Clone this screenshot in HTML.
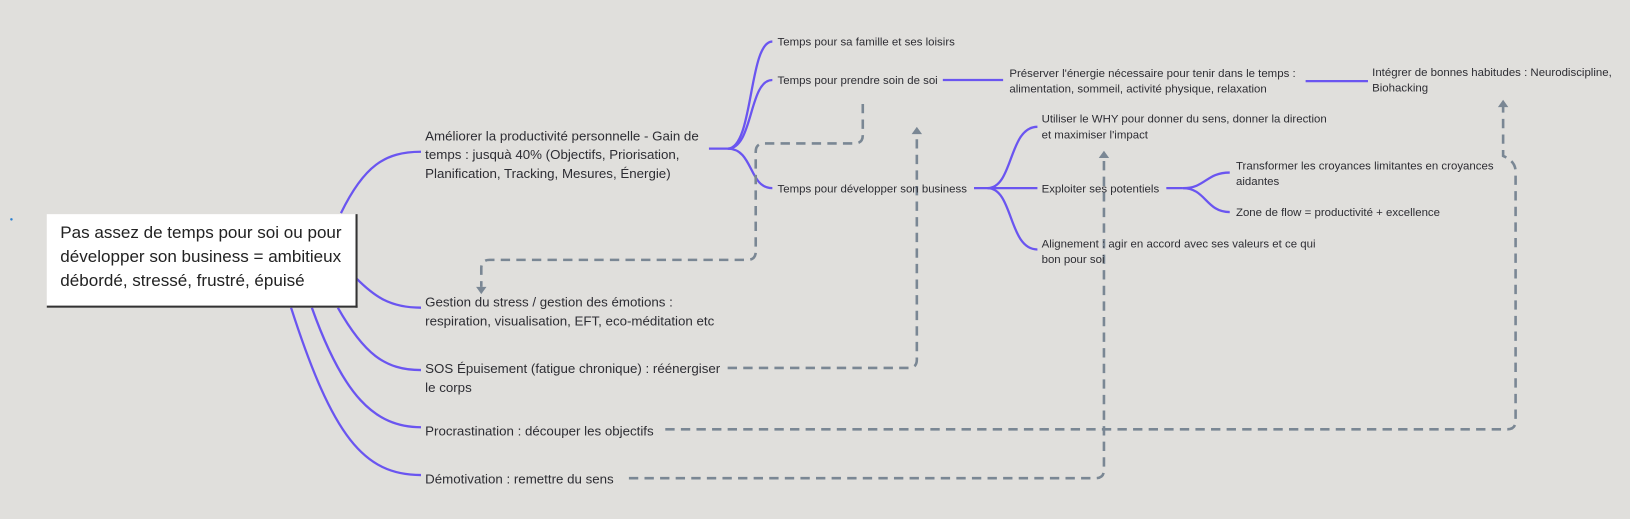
<!DOCTYPE html>
<html><head><meta charset="utf-8"><style>
body{margin:0;width:1630px;height:519px;background:#e0dfdc;overflow:hidden;position:relative;font-family:"Liberation Sans",sans-serif;color:#2d2d33}
#w{position:absolute;left:0;top:0;width:1568px;height:499px;transform:scale(1.0395);transform-origin:0 0}
.t{position:absolute;font-size:12.8px;line-height:18px;white-space:nowrap}
.s{position:absolute;font-size:11px;line-height:15px;white-space:nowrap}
.root{position:absolute;left:45px;top:206px;width:272px;height:76px;background:#fff;border-right:2px solid #333;border-bottom:2px solid #333;padding:7px 12px 5px 13px;font-size:16.4px;line-height:23px;color:#222}
svg{position:absolute;left:0;top:0}
</style></head><body><div id="w">
<svg width="1568" height="499">
<g fill="none" stroke="#6a55f0" stroke-width="2.2">
<path d="M328,205 C350,160 370,146 405,146"/>
<path d="M343,268 C360,285 375,296 405,296"/>
<path d="M325,296 C350,340 370,356 405,356"/>
<path d="M300,296 C330,380 360,411 405,411"/>
<path d="M280,296 C320,420 350,457 405,457"/>
<path d="M682,143 L700,143"/>
<path d="M700,143 C725,143 720,40 743,40"/>
<path d="M700,143 C725,143 720,77 743,77"/>
<path d="M700,143 C725,143 720,181 743,181"/>
<path d="M907,77 L965,77"/>
<path d="M1256,78 L1316,78"/>
<path d="M937,181 L998,181"/>
<path d="M950,181 C975,181 970,122 998,122"/>
<path d="M950,181 C975,181 970,240 998,240"/>
<path d="M1122,181 L1138,181"/>
<path d="M1138,181 C1160,181 1160,166 1183,166"/>
<path d="M1138,181 C1160,181 1160,204 1183,204"/>
</g>
<g fill="none" stroke="#7a8794" stroke-width="2.5" stroke-dasharray="9,6">
<path d="M830,100 L830,130 Q830,138 822,138 L735,138 Q727,138 727,146 L727,242 Q727,250 719,250 L471,250 Q463,250 463,258 L463,276"/>
<path d="M700,354 L874,354 Q882,354 882,346 L882,128"/>
<path d="M640,413 L1450,413 Q1458,413 1458,405 L1458,165 Q1458,155 1446,150 L1446,102"/>
<path d="M605,460 L1054,460 Q1062,460 1062,452 L1062,150"/>
</g>
<g fill="#7a8794">
<path d="M458,276 L468,276 L463,283 Z"/>
<path d="M877,129 L887,129 L882,122 Z"/>
<path d="M1441,103 L1451,103 L1446,96 Z"/>
<path d="M1057,152 L1067,152 L1062,145 Z"/>
</g>
<circle cx="11" cy="211" r="1.2" fill="#2a7fd0"/>
</svg>
<div class="root">Pas assez de temps pour soi ou pour développer son business = ambitieux débordé, stressé, frustré, épuisé</div>
<div class="t" style="left:409px;top:122px">Améliorer la productivité personnelle - Gain de<br>temps : jusquà 40% (Objectifs, Priorisation,<br>Planification, Tracking, Mesures, Énergie)</div>
<div class="t" style="left:409px;top:282px">Gestion du stress / gestion des émotions :<br>respiration, visualisation, EFT, eco-méditation etc</div>
<div class="t" style="left:409px;top:346px">SOS Épuisement (fatigue chronique) : réénergiser<br>le corps</div>
<div class="t" style="left:409px;top:406px">Procrastination : découper les objectifs</div>
<div class="t" style="left:409px;top:452px">Démotivation : remettre du sens</div>
<div class="s" style="left:748px;top:34px">Temps pour sa famille et ses loisirs</div>
<div class="s" style="left:748px;top:71px">Temps pour prendre soin de soi</div>
<div class="s" style="left:748px;top:175px">Temps pour développer son  business</div>
<div class="s" style="left:971px;top:64px">Préserver l'énergie nécessaire pour tenir dans le temps :<br>alimentation, sommeil, activité physique, relaxation</div>
<div class="s" style="left:1320px;top:63px">Intégrer de bonnes habitudes : Neurodiscipline,<br>Biohacking</div>
<div class="s" style="left:1002px;top:108px">Utiliser le WHY pour donner du sens, donner la direction<br>et maximiser l'impact</div>
<div class="s" style="left:1002px;top:175px">Exploiter ses  potentiels</div>
<div class="s" style="left:1002px;top:228px">Alignement : agir en accord avec ses valeurs et ce qui<br>bon pour soi</div>
<div class="s" style="left:1189px;top:153px">Transformer les croyances limitantes en croyances<br>aidantes</div>
<div class="s" style="left:1189px;top:198px">Zone de flow = productivité + excellence</div>
</div></body></html>
